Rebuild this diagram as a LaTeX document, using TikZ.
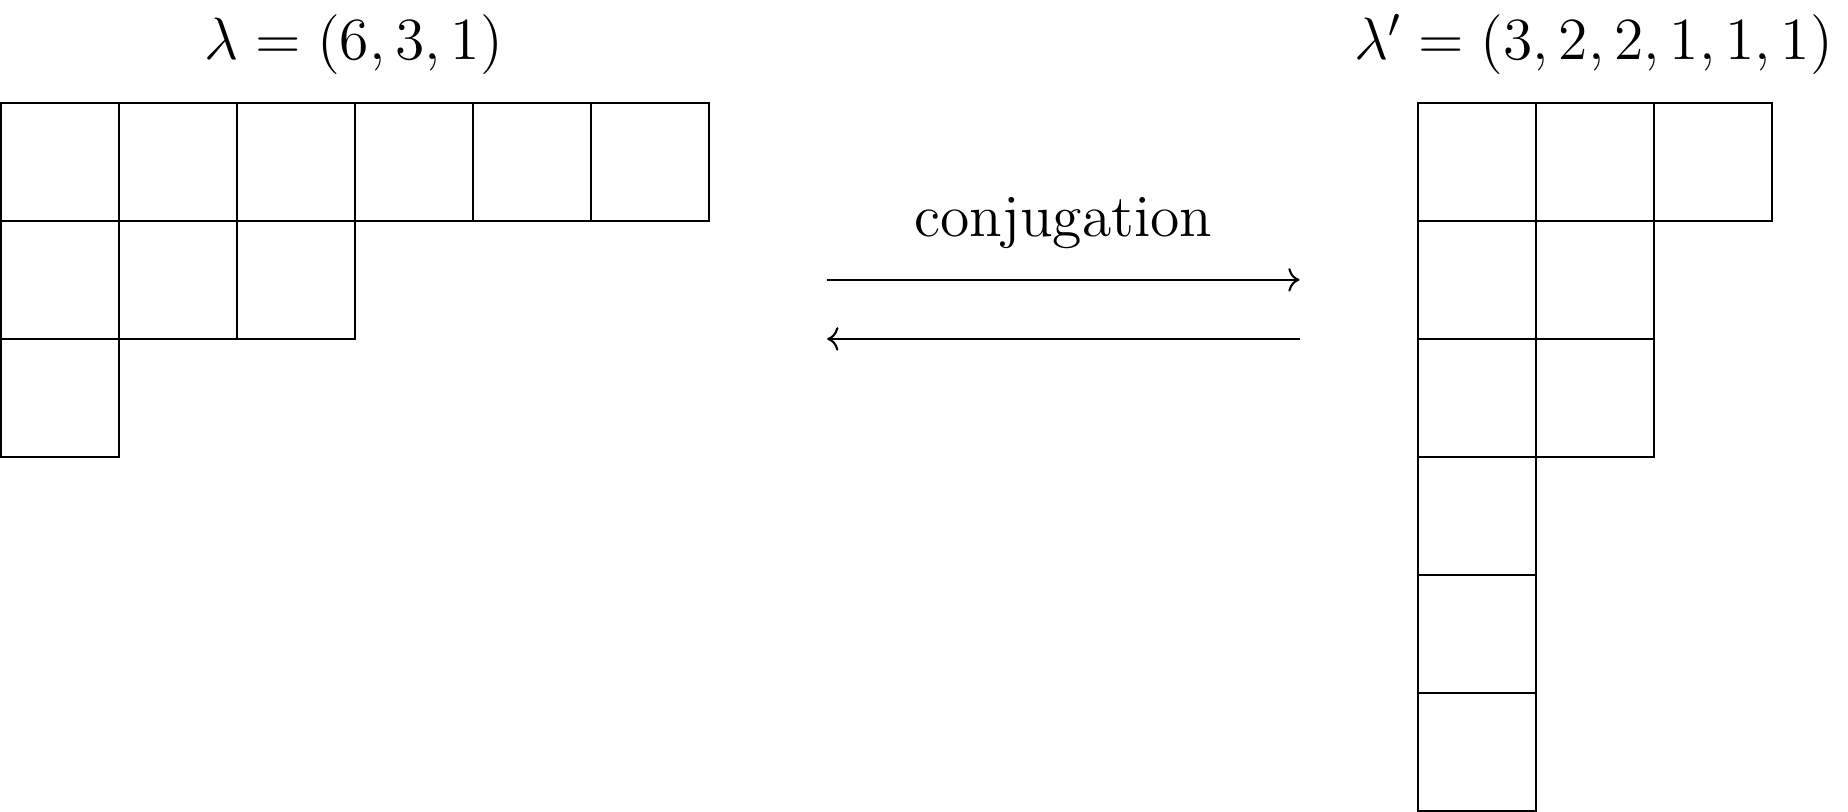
\documentclass[tikz,border=0pt]{standalone}
\usetikzlibrary{arrows.meta}
\begin{document}
\begin{tikzpicture}[
  cell/.style={draw, rectangle, minimum size=1cm, inner sep=0pt, outer sep=0pt, line width=0.5pt},
  lbl/.style={font=\fontsize{14}{17}\selectfont, anchor=base, inner sep=0pt},
  txt/.style={font=\fontsize{14.4}{17}\selectfont, anchor=base, inner sep=0pt},
  conj/.style={line width=0.5pt, -To}
]
\useasboundingbox (-0.005,-6.006) rectangle (15.645,0.87);
% left diagram lambda = (6,3,1)
\foreach \c in {1,...,6} \node[cell] (L1\c) at (\c-0.5,-0.5) {};
\foreach \c in {1,...,3} \node[cell] (L2\c) at (\c-0.5,-1.5) {};
\node[cell] (L31) at (0.5,-2.5) {};
% right diagram lambda' = (3,2,2,1,1,1)
\foreach \c in {1,...,3} \node[cell] (R1\c) at (11.5+\c,-0.5) {};
\foreach \c in {1,2} \node[cell] (R2\c) at (11.5+\c,-1.5) {};
\foreach \c in {1,2} \node[cell] (R3\c) at (11.5+\c,-2.5) {};
\node[cell] (R41) at (12.5,-3.5) {};
\node[cell] (R51) at (12.5,-4.5) {};
\node[cell] (R61) at (12.5,-5.5) {};
% titles
\node[lbl] (tl) at (2.99,0.365) {$\lambda = (6,3,1)$};
\node[lbl] (tr) at (13.49,0.365) {$\lambda' = (3,2,2,1,1,1)$};
\node[txt] (cj) at (9.0,-1.13) {conjugation};
% arrows
\coordinate (a1) at (7,-1.5);
\coordinate (b1) at (11,-1.5);
\coordinate (a2) at (11,-2);
\coordinate (b2) at (7,-2);
\draw[conj] (a1) -- (b1);
\draw[conj] (a2) -- (b2);
\end{tikzpicture}
\end{document}
